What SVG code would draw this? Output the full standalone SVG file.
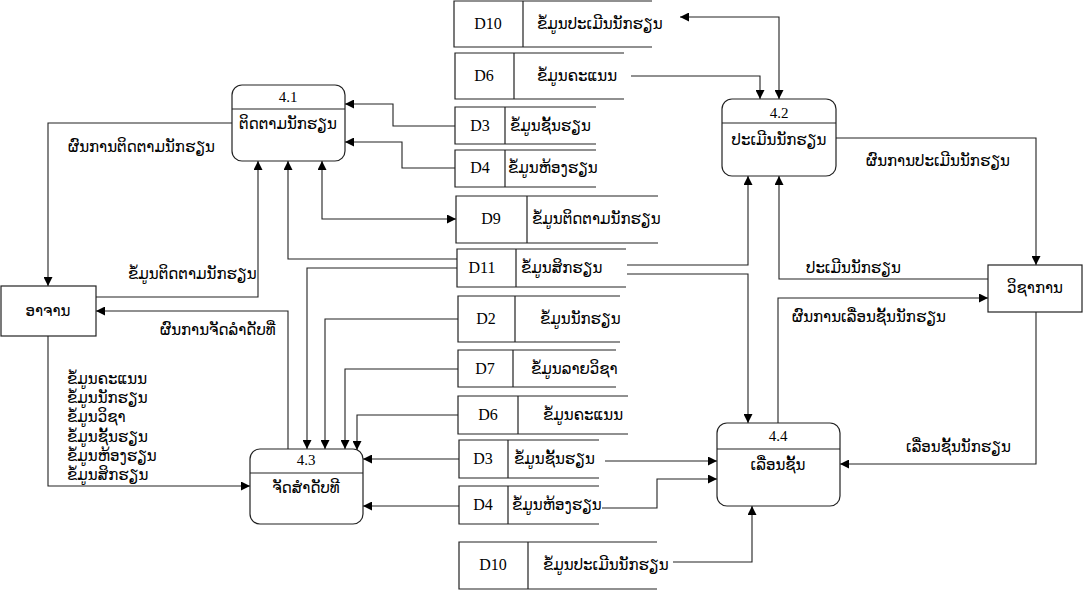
<svg xmlns="http://www.w3.org/2000/svg" width="1084" height="590" viewBox="0 0 1084 590">
<style>
.bg{fill:#fff}
.box{fill:#fff;stroke:#222;stroke-width:1.2}
.ln{fill:none;stroke:#222;stroke-width:1.2}
.st{fill:none;stroke:#222;stroke-width:1.2}
.cn{fill:none;stroke:#222;stroke-width:1.1}
.lat{font-family:'Liberation Serif',serif;font-size:16px;fill:#000}
.num{font-family:'Liberation Serif',serif;font-size:15px;fill:#000;text-anchor:middle}
.lao{font-family:'DejaVu Sans','Noto Sans',sans-serif;font-size:15px;fill:#000}
.mid{text-anchor:middle}
</style>
<defs>
<marker id="ah" viewBox="0 0 10 10" refX="10" refY="5" markerWidth="9" markerHeight="9" markerUnits="userSpaceOnUse" orient="auto-start-reverse">
<path d="M0,0 L10,5 L0,10 z" fill="#000"/>
</marker>
</defs>
<rect class="bg" x="0" y="0" width="1084" height="590"/>

<g id="connectors">
<path class="cn" d="M680 17 H779 V99" marker-start="url(#ah)" marker-end="url(#ah)"/>
<path class="cn" d="M631 76 H760 V99" marker-end="url(#ah)"/>
<path class="cn" d="M455 126 H393 V104 H345" marker-end="url(#ah)"/>
<path class="cn" d="M455 168 H402 V142 H345" marker-end="url(#ah)"/>
<path class="cn" d="M322 161 V219 H456" marker-start="url(#ah)" marker-end="url(#ah)"/>
<path class="cn" d="M457 259 H288 V161" marker-end="url(#ah)"/>
<path class="cn" d="M96 297 H258 V161" marker-end="url(#ah)"/>
<path class="cn" d="M232 123 H48 V286" marker-end="url(#ah)"/>
<path class="cn" d="M288 449 V311 H96" marker-end="url(#ah)"/>
<path class="cn" d="M48 336 V486 H250" marker-end="url(#ah)"/>
<path class="cn" d="M457 268 H307 V449" marker-end="url(#ah)"/>
<path class="cn" d="M458 319 H325 V449" marker-end="url(#ah)"/>
<path class="cn" d="M458 369 H345 V449" marker-end="url(#ah)"/>
<path class="cn" d="M458 415 H357 V450" marker-end="url(#ah)"/>
<path class="cn" d="M459 459 H363" marker-end="url(#ah)"/>
<path class="cn" d="M459 506 H363" marker-end="url(#ah)"/>
<path class="cn" d="M605 461 H717" marker-end="url(#ah)"/>
<path class="cn" d="M602 508 H657 V479 H717" marker-end="url(#ah)"/>
<path class="cn" d="M673 562 H752 V506" marker-end="url(#ah)"/>
<path class="cn" d="M627 265 H748 V176" marker-end="url(#ah)"/>
<path class="cn" d="M627 274 H748 V423" marker-end="url(#ah)"/>
<path class="cn" d="M836 138 H1036 V265" marker-end="url(#ah)"/>
<path class="cn" d="M988 279 H779 V176" marker-end="url(#ah)"/>
<path class="cn" d="M778 423 V298 H988" marker-end="url(#ah)"/>
<path class="cn" d="M1036 312 V464 H840" marker-end="url(#ah)"/>
<text class="lao" x="68" y="152">ຜົນການຕິດຕາມນັກຮຽນ</text>
<text class="lao" x="128" y="279">ຂໍ້ມູນຕິດຕາມນັກຮຽນ</text>
<text class="lao" x="160" y="335">ຜົນການຈັດລຳດັບທີ່</text>
<text class="lao" x="67" y="384">ຂໍ້ມູນຄະແນນ</text>
<text class="lao" x="67" y="403">ຂໍ້ມູນນັກຮຽນ</text>
<text class="lao" x="67" y="422">ຂໍ້ມູນວິຊາ</text>
<text class="lao" x="67" y="442">ຂໍ້ມູນຊັ້ນຮຽນ</text>
<text class="lao" x="67" y="461">ຂໍ້ມູນຫ້ອງຮຽນ</text>
<text class="lao" x="67" y="480">ຂໍ້ມູນສິກຮຽນ</text>
<text class="lao" x="866" y="166">ຜົນການປະເມີນນັກຮຽນ</text>
<text class="lao" x="806" y="273">ປະເມີນນັກຮຽນ</text>
<text class="lao" x="792" y="322">ຜົນການເລື່ອນຊັ້ນນັກຮຽນ</text>
<text class="lao" x="906" y="452">ເລື່ອນຊັ້ນນັກຮຽນ</text>
</g>

<g id="p41">
<rect class="box" x="232" y="85" width="113" height="76" rx="10"/>
<line class="ln" x1="232" y1="109" x2="345" y2="109"/>
<text class="num" x="288" y="102">4.1</text>
<text class="lao mid" x="288" y="129">ຕິດຕາມນັກຮຽນ</text>
</g>
<g id="p42">
<rect class="box" x="722" y="99" width="114" height="77" rx="10"/>
<line class="ln" x1="722" y1="123" x2="836" y2="123"/>
<text class="num" x="779" y="118">4.2</text>
<text class="lao mid" x="779" y="145">ປະເມີນນັກຮຽນ</text>
</g>
<g id="p43">
<rect class="box" x="250" y="449" width="113" height="75" rx="10"/>
<line class="ln" x1="250" y1="473" x2="363" y2="473"/>
<text class="num" x="306" y="465">4.3</text>
<text class="lao mid" x="306" y="493">ຈັດສຳດັບທີ</text>
</g>
<g id="p44">
<rect class="box" x="717" y="423" width="123" height="83" rx="10"/>
<line class="ln" x1="717" y1="449" x2="840" y2="449"/>
<text class="num" x="778" y="441">4.4</text>
<text class="lao mid" x="778" y="470">ເລື່ອນຊັ້ນ</text>
</g>

<g id="e_teacher">
<rect class="box" x="1" y="286" width="95" height="50"/>
<text class="lao mid" x="48" y="316">ອາຈານ</text>
</g>
<g id="e_academic">
<rect class="box" x="988" y="265" width="94" height="47"/>
<text class="lao mid" x="1035" y="293">ວິຊາການ</text>
</g>

<g id="D10a">
<path class="st" d="M652 1 H454 V47 H652 M523 1 V47"/>
<text class="lat mid" x="488" y="29">D10</text>
<text class="lao" x="537" y="29">ຂໍ້ມູນປະເມີນນັກຮຽນ</text>
</g>
<g id="D6a">
<path class="st" d="M624 53 H455 V99 H624 M514 53 V99"/>
<text class="lat mid" x="484" y="81">D6</text>
<text class="lao" x="537" y="81">ຂໍ້ມູນຄະແນນ</text>
</g>
<g id="D3a">
<path class="st" d="M596 107 H455 V144 H596 M505 107 V144"/>
<text class="lat mid" x="480" y="131">D3</text>
<text class="lao" x="510" y="131">ຂໍ້ມູນຊັ້ນຮຽນ</text>
</g>
<g id="D4a">
<path class="st" d="M596 150 H455 V187 H596 M505 150 V187"/>
<text class="lat mid" x="480" y="173">D4</text>
<text class="lao" x="508" y="173">ຂໍ້ມູນຫ້ອງຮຽນ</text>
</g>
<g id="D9">
<path class="st" d="M658 196 H456 V243 H658 M527 196 V243"/>
<text class="lat mid" x="491" y="224">D9</text>
<text class="lao" x="532" y="224">ຂໍ້ມູນຕິດຕາມນັກຮຽນ</text>
</g>
<g id="D11">
<path class="st" d="M626 249 H457 V287 H626 M516 249 V287"/>
<text class="lat mid" x="482" y="273">D11</text>
<text class="lao" x="521" y="273">ຂໍ້ມູນສິກຮຽນ</text>
</g>
<g id="D2">
<path class="st" d="M620 296 H458 V342 H620 M515 296 V342"/>
<text class="lat mid" x="486" y="324">D2</text>
<text class="lao" x="540" y="324">ຂໍ້ມູນນັກຮຽນ</text>
</g>
<g id="D7">
<path class="st" d="M616 350 H458 V387 H616 M513 350 V387"/>
<text class="lat mid" x="485" y="374">D7</text>
<text class="lao" x="531" y="374">ຂໍ້ມູນລາຍວິຊາ</text>
</g>
<g id="D6b">
<path class="st" d="M628 396 H458 V434 H628 M518 396 V434"/>
<text class="lat mid" x="488" y="420">D6</text>
<text class="lao" x="543" y="420">ຂໍ້ມູນຄະແນນ</text>
</g>
<g id="D3b">
<path class="st" d="M599 440 H459 V478 H599 M508 440 V478"/>
<text class="lat mid" x="483" y="464">D3</text>
<text class="lao" x="514" y="464">ຂໍ້ມູນຊັ້ນຮຽນ</text>
</g>
<g id="D4b">
<path class="st" d="M599 486 H459 V524 H599 M508 486 V524"/>
<text class="lat mid" x="483" y="510">D4</text>
<text class="lao" x="512" y="510">ຂໍ້ມູນຫ້ອງຮຽນ</text>
</g>
<g id="D10b">
<path class="st" d="M657 542 H459 V589 H657 M528 542 V589"/>
<text class="lat mid" x="493" y="570">D10</text>
<text class="lao" x="543" y="570">ຂໍ້ມູນປະເມີນນັກຮຽນ</text>
</g>
</svg>
